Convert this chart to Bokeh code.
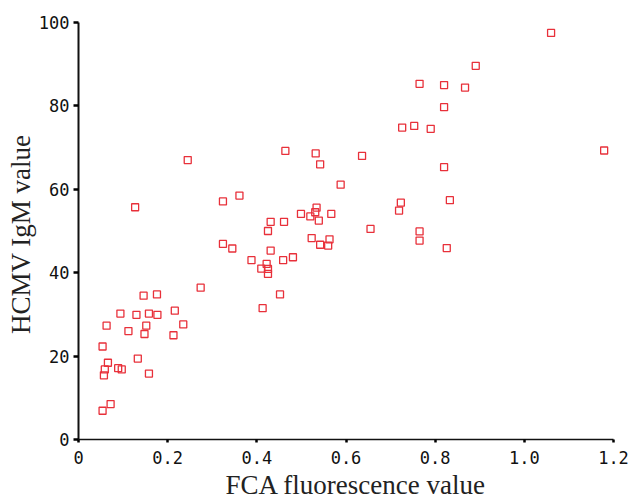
from bokeh.plotting import figure
from bokeh.models import Range1d, FixedTicker, Title
from bokeh.embed import file_html
from bokeh.resources import INLINE

# FCA fluorescence value (x) and HCMV IgM value (y)
fca = [0.054, 0.072, 0.057, 0.059, 0.066, 0.089, 0.097, 0.133, 0.158, 0.054,
       0.063, 0.112, 0.148, 0.152, 0.094, 0.130, 0.158, 0.177, 0.146, 0.176,
       0.216, 0.235, 0.213, 0.274, 0.127, 0.245,
       0.324, 0.361, 0.324, 0.345, 0.388, 0.431, 0.410, 0.422, 0.425, 0.425,
       0.459, 0.481, 0.452, 0.413, 0.431, 0.425, 0.461, 0.464, 0.499, 0.520,
       0.534, 0.531, 0.539, 0.567, 0.523, 0.542, 0.563, 0.560, 0.532, 0.542,
       0.588, 0.636, 0.655,
       0.723, 0.719, 0.765, 0.765, 0.820, 0.833, 0.826, 0.726, 0.753, 0.790,
       0.765, 0.820, 0.867, 0.820, 0.891, 1.060, 1.179]
igm = [6.9, 8.5, 15.4, 16.8, 18.4, 17.1, 16.8, 19.4, 15.8, 22.3,
       27.3, 26.0, 25.3, 27.3, 30.2, 29.9, 30.2, 29.9, 34.5, 34.8,
       30.9, 27.6, 25.0, 36.4, 55.7, 67.0,
       57.1, 58.5, 46.9, 45.8, 43.0, 45.3, 41.0, 42.1, 40.9, 39.7,
       43.0, 43.7, 34.8, 31.5, 52.2, 50.0, 52.2, 69.2, 54.1, 53.5,
       55.6, 54.5, 52.5, 54.1, 48.3, 46.7, 48.0, 46.5, 68.6, 66.0,
       61.1, 68.0, 50.5,
       56.8, 54.9, 49.9, 47.7, 65.3, 57.4, 45.9, 74.8, 75.2, 74.5,
       85.3, 85.0, 84.4, 79.7, 89.6, 97.5, 69.3]

x_ticks = [0, 0.2, 0.4, 0.6, 0.8, 1.0, 1.2]
x_tick_labels = ["0", "0.2", "0.4", "0.6", "0.8", "1.0", "1.2"]
y_ticks = [0, 20, 40, 60, 80, 100]
y_tick_labels = ["0", "20", "40", "60", "80", "100"]
x_title = "FCA  fluorescence value"
y_title = "HCMV IgM  value"

p = figure(output_backend="svg", toolbar_location=None,
           width=632, height=502,
           x_range=Range1d(0, 1.2), y_range=Range1d(0, 100),
           min_border_left=78, min_border_top=22, min_border_right=19,
           min_border_bottom=63)
p.outline_line_color = None
p.grid.visible = False
p.background_fill_color = "white"
p.border_fill_color = "white"

p.scatter(fca, igm, marker="square", size=7, fill_color=None,
          line_color="#e8303a", line_width=1.3)

tick_font = "DejaVu Sans Mono"
label_font = "Liberation Serif"

xa = p.xaxis[0]
xa.ticker = FixedTicker(ticks=x_ticks)
xa.major_label_overrides = {t: l for t, l in zip(x_ticks, x_tick_labels)}
xa.major_label_text_font = tick_font
xa.major_label_text_font_size = "17px"
xa.major_label_text_color = "#111111"
xa.major_label_standoff = 8
xa.axis_line_width = 1.5
xa.axis_line_color = "#111111"
xa.major_tick_in = 0
xa.major_tick_out = 3
xa.major_tick_line_width = 2.5
xa.minor_tick_line_color = None

# x-axis title, placed right of centre as in the reference
p.add_layout(Title(text=x_title, align="left", offset=147, standoff=3,
                   text_font=label_font, text_font_style="normal",
                   text_font_size="27px", text_color="#222222"), "below")

ya = p.yaxis[0]
ya.ticker = FixedTicker(ticks=y_ticks)
ya.major_label_overrides = {t: l for t, l in zip(y_ticks, y_tick_labels)}
ya.axis_label = y_title
ya.axis_label_text_font = label_font
ya.axis_label_text_font_style = "normal"
ya.axis_label_text_font_size = "27px"
ya.axis_label_text_color = "#222222"
ya.axis_label_standoff = 0
ya.major_label_text_font = tick_font
ya.major_label_text_font_size = "17px"
ya.major_label_text_color = "#111111"
ya.major_label_standoff = 4
ya.axis_line_width = 2
ya.axis_line_color = "#111111"
ya.major_tick_in = 0
ya.major_tick_out = 5
ya.major_tick_line_width = 2.5
ya.minor_tick_line_color = None

open("out.html", "w").write(file_html(p, INLINE))
